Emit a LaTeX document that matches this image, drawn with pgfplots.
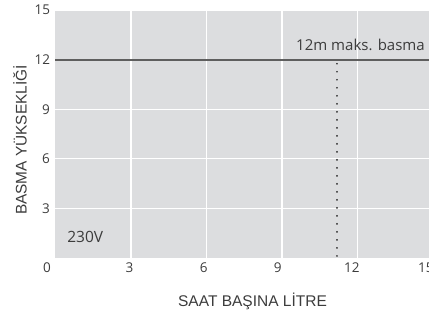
\documentclass[border=0pt]{standalone}
\usepackage{pgfplots}
\pgfplotsset{compat=1.18}
\usepackage{fontspec}
\setmainfont{Open Sans}
\newfontfamily\labfont{Liberation Sans}
\definecolor{bg}{HTML}{DCDDDF}
\definecolor{txt}{HTML}{3C3C3C}
\definecolor{hline}{HTML}{5E5E5E}
\begin{document}
\begin{tikzpicture}[x=1pt,y=1pt]
\useasboundingbox (0,0) rectangle (429,311);
\begin{axis}[
  at={(55.5pt,53pt)}, anchor=south west,
  scale only axis, width=377.5pt, height=248pt,
  xmin=0, xmax=15, ymin=0, ymax=15,
  xtick={3,6,9,12,15}, ytick={3,6,9,12,15},
  extra x ticks={0}, extra x tick style={xticklabel style={xshift=-8.5pt}, grid=none},
  grid=major, major grid style={white, line width=1.2pt},
  axis background/.style={fill=bg},
  axis line style={draw=none},
  tick style={draw=none},
  /pgf/number format/assume math mode=true,
  tick label style={font=\fontsize{13.5}{15}\selectfont, text=txt},
  xticklabel style={yshift=-1pt, xshift={-0.47*\tick}},
  yticklabel style={xshift=-2pt},
  clip=false,
]
\addplot[hline, line width=2pt] coordinates {(0,12) (15,12)};
\addplot[black!85, line width=1.9pt, dash pattern=on 0.01pt off 8pt, line cap=round] coordinates {(11.17,11.75) (11.17,0)};
\node[anchor=base east, text=txt, font=\fontsize{15}{17}\selectfont, inner sep=0pt] at (axis cs:14.68,12.55) {12m maks. basma};
\node[anchor=base west, text=txt, font=\fontsize{15.5}{17}\selectfont, inner sep=0pt] at (axis cs:0.46,0.93) {230V};
\end{axis}
\node[text=txt, font=\labfont\fontsize{15.5}{17}\selectfont, inner sep=0pt] at (252.5,10) {SAAT BAŞINA LİTRE};
\node[text=txt, font=\labfont\fontsize{15.4}{17}\selectfont, inner sep=0pt, rotate=90] at (20,171) {BASMA YÜKSEKLİĞİ};
\end{tikzpicture}
\end{document}
